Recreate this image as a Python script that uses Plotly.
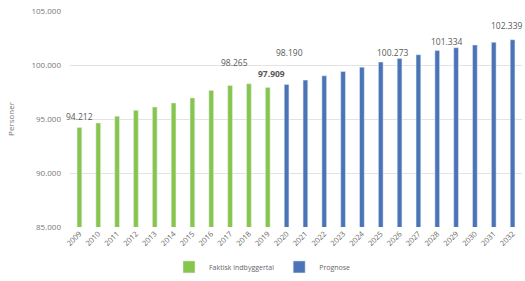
import plotly.graph_objects as go

years_actual = list(range(2009, 2020))
values_actual = [94212, 94630, 95250, 95800, 96100, 96480, 96950, 97650, 98100, 98265, 97909]
years_prog = list(range(2020, 2033))
values_prog = [98190, 98600, 99000, 99400, 99800, 100273, 100600, 100950, 101334, 101600, 101850, 102100, 102339]

y_tick_values = [85000, 90000, 95000, 100000, 105000]
y_tick_labels = ["85.000", "90.000", "95.000", "100.000", "105.000"]

# labelled points
label_years = [2009, 2018, 2019, 2020, 2025, 2028, 2032]

GREEN = "#86c64c"
BLUE = "#4a74b6"

fig = go.Figure()
fig.add_trace(go.Bar(x=years_actual, y=values_actual, name="Faktisk indbyggertal",
                     marker_color=GREEN, width=0.25))
fig.add_trace(go.Bar(x=years_prog, y=values_prog, name="Prognose",
                     marker_color=BLUE, width=0.25))

allx = years_actual + years_prog
allv = values_actual + values_prog
offsets = {2009: (0, 4), 2018: (-14, 14), 2019: (4, 7), 2020: (3, 25),
           2025: (12, 2), 2028: (10, 2), 2032: (-6, 7)}
for yr in label_years:
    v = allv[allx.index(yr)]
    txt = f"{v:,}".replace(",", ".")
    if yr == 2019:
        txt = f"<b>{txt}</b>"
    dx, dy = offsets[yr]
    fig.add_annotation(x=yr, y=v, text=txt, showarrow=False, yanchor="bottom",
                       xshift=dx, yshift=dy,
                       font=dict(size=8.5, color="#595959", family="Open Sans"))

fig.update_layout(
    width=525, height=281,
    margin=dict(l=70, r=3, t=11, b=54, autoexpand=False),
    paper_bgcolor="white", plot_bgcolor="white",
    barmode="overlay",
    font=dict(family="Open Sans", color="#666666", size=8),
    showlegend=True,
    legend=dict(orientation="h", xref="container", yref="container",
                x=0.5, xanchor="center", y=0.05, yanchor="middle",
                font=dict(size=7, color="#666666"), itemwidth=30),
    xaxis=dict(type="linear", range=[2008.5, 2032.5], tickmode="linear", tick0=2009, dtick=1,
               tickangle=-45, automargin=False,
               tickfont=dict(size=7.5, color="#666666"), showgrid=False,
               showline=False, ticks="", zeroline=False),
    yaxis=dict(range=[85000, 105000], tickvals=y_tick_values, ticktext=y_tick_labels,
               automargin=False, ticklabelstandoff=8,
               showgrid=True, gridcolor="#e3e3e3", gridwidth=1,
               zeroline=False, showline=False, ticks="",
               tickfont=dict(size=8, color="#777777"),
               title=dict(text="Personer", font=dict(size=8, color="#777777"), standoff=15)),
)

fig.write_html("out.html", config={"displayModeBar": False},
               post_script="document.body.style.margin='0';")
